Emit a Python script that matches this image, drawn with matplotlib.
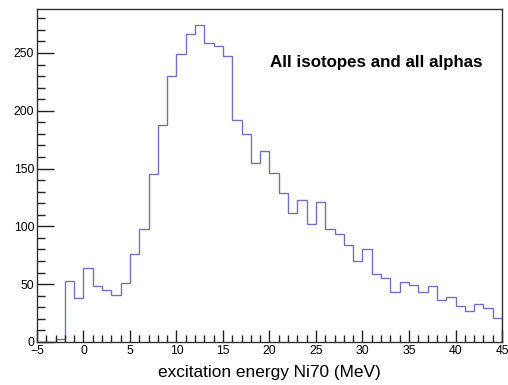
import matplotlib
matplotlib.use('Agg')
import matplotlib.pyplot as plt
import numpy as np
from matplotlib.ticker import MultipleLocator

plt.rcParams['font.family'] = ['Liberation Sans', 'DejaVu Sans']

# 1 MeV bins from -5 to 45
bin_edges = np.arange(-5, 46, 1)
counts = [0, 0, 3, 53, 38, 64, 48, 45, 41, 51,
          76, 98, 145, 188, 230, 249, 266, 274, 259, 256,
          247, 192, 180, 155, 165, 146, 129, 112, 123, 102,
          121, 98, 93, 84, 70, 80, 59, 55, 43, 52,
          49, 43, 48, 36, 39, 31, 27, 33, 29, 21]

fig = plt.figure(figsize=(5.08, 3.85), dpi=100)
ax = fig.add_axes([0.0728, 0.1117, 0.9154, 0.8649])

ax.stairs(counts, bin_edges, color='#7272b8', linewidth=1.0)

ax.set_xlim(-5, 45)
ax.set_ylim(0, 288)

ax.xaxis.set_major_locator(MultipleLocator(5))
ax.xaxis.set_minor_locator(MultipleLocator(1))
ax.yaxis.set_major_locator(MultipleLocator(50))
ax.yaxis.set_minor_locator(MultipleLocator(10))

ax.tick_params(which='both', direction='in', top=False, right=False,
               color='#222222', labelsize=8.8, pad=2)
ax.tick_params(axis='y', which='major', length=12, width=1.0)
ax.tick_params(axis='y', which='minor', length=6, width=1.0)
ax.tick_params(axis='x', which='major', length=9, width=1.0)
ax.tick_params(axis='x', which='minor', length=5, width=1.0)

for s in ax.spines.values():
    s.set_color('#333333')
    s.set_linewidth(1.0)

ax.set_xlabel('excitation energy Ni70 (MeV)', fontsize=12.4, labelpad=6)

ax.text(31.5, 242, 'All isotopes and all alphas', fontsize=12.2,
        fontweight='bold', ha='center', va='center')

fig.savefig('out.png', dpi=100, facecolor='white')
